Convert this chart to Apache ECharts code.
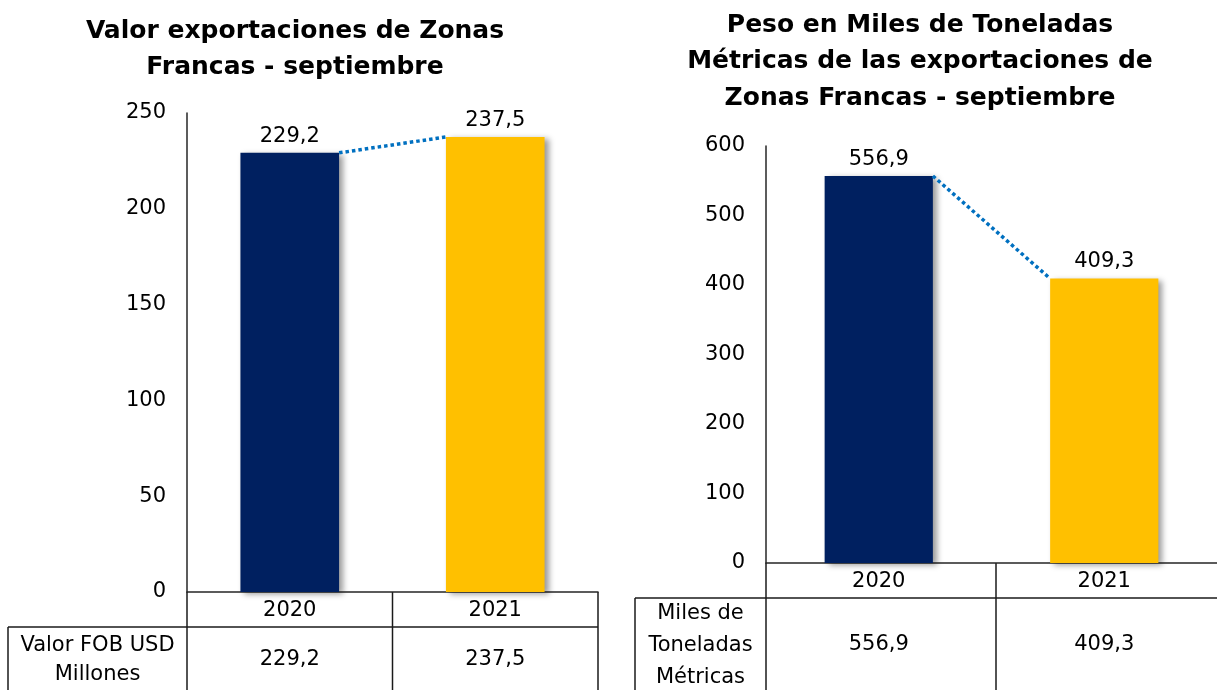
<!DOCTYPE html>
<html>
<head>
<meta charset="utf-8">
<script src="https://cdn.jsdelivr.net/npm/echarts@6/dist/echarts.min.js"></script>
<style>
  html, body { margin: 0; padding: 0; background: #fff; }
  #chart { width: 1217px; height: 690px; }
</style>
</head>
<body>
<div id="chart"></div>
<script>
  // data
  const categories = ['2020', '2021'];
  const valorFob = [229.2, 237.5];
  const pesoMiles = [556.9, 409.3];
  const valorTicks = [0, 50, 100, 150, 200, 250];
  const pesoTicks = [0, 100, 200, 300, 400, 500, 600];
  const barColors = ['#002060', '#FFC000'];

  const FONT = 'DejaVu Sans';
  const fmt = v => v.toFixed(1).replace('.', ',');

  // grid layout (px)
  const g1 = { left: 187, top: 113, width: 411, height: 479 };
  const g2 = { left: 766, top: 146, width: 460, height: 417 };

  const chart = echarts.init(document.getElementById('chart'));

  function yAxisFor(ticks, gi) {
    return {
      type: 'value', gridIndex: gi,
      min: ticks[0], max: ticks[ticks.length - 1], interval: ticks[1] - ticks[0],
      axisLine: { show: true, lineStyle: { color: '#262626', width: 1.5 } },
      axisTick: { show: false },
      splitLine: { show: false },
      axisLabel: { color: '#000', fontSize: 21, fontFamily: FONT, margin: 21 }
    };
  }

  function xAxisFor(gi) {
    return {
      type: 'category', gridIndex: gi, data: categories,
      axisLine: { show: true, lineStyle: { color: '#262626', width: 1.5 } },
      axisTick: { show: false },
      axisLabel: { color: '#000', fontSize: 21, fontFamily: FONT, margin: 8 }
    };
  }

  function barSeries(values, gi) {
    return {
      type: 'bar', xAxisIndex: gi, yAxisIndex: gi, barWidth: '48%',
      data: values.map((v, i) => ({
        value: v,
        itemStyle: {
          color: barColors[i],
          shadowColor: 'rgba(0,0,0,0.4)', shadowBlur: 6, shadowOffsetX: 4, shadowOffsetY: 2
        }
      })),
      label: {
        show: true, position: 'top', distance: 6, color: '#000',
        fontSize: 21, fontFamily: FONT, formatter: p => fmt(p.value)
      },
      z: 3
    };
  }

  // dotted line from top-right of first bar to top-left of second
  function linkSeries(values, gi) {
    return {
      type: 'custom', xAxisIndex: gi, yAxisIndex: gi, z: 4, silent: true,
      data: [[0, values[0], 1, values[1]]],
      renderItem: function (params, api) {
        const a = api.coord([api.value(0), api.value(1)]);
        const b = api.coord([api.value(2), api.value(3)]);
        const half = api.size([1, 0])[0] * 0.48 / 2;
        return {
          type: 'line',
          shape: { x1: a[0] + half, y1: a[1], x2: b[0] - half, y2: b[1] },
          style: { stroke: '#0070C0', lineWidth: 3.5, lineDash: [3.5, 3] }
        };
      }
    };
  }

  chart.setOption({
    animation: false,
    title: [
      {
        text: 'Valor exportaciones de Zonas\nFrancas - septiembre',
        left: 290, top: 8, textAlign: 'center',
        textStyle: { fontSize: 25, fontWeight: 'bold', fontFamily: FONT, color: '#000', lineHeight: 36 }
      },
      {
        text: 'Peso en Miles de Toneladas\nMétricas de las exportaciones de\nZonas Francas - septiembre',
        left: 915, top: 2, textAlign: 'center',
        textStyle: { fontSize: 25, fontWeight: 'bold', fontFamily: FONT, color: '#000', lineHeight: 36.5 }
      }
    ],
    grid: [g1, g2],
    xAxis: [xAxisFor(0), xAxisFor(1)],
    yAxis: [yAxisFor(valorTicks, 0), yAxisFor(pesoTicks, 1)],
    series: [
      barSeries(valorFob, 0), linkSeries(valorFob, 0),
      barSeries(pesoMiles, 1), linkSeries(pesoMiles, 1)
    ]
  });

  // data table under each chart
  function tableGraphics(g, gi, values, rowLabel, labelLeft, rowTop, lh) {
    const bottom = g.top + g.height;
    const right = g.left + g.width;
    const mid = g.left + g.width / 2;
    const line = (x1, y1, x2, y2) => ({
      type: 'line', silent: true,
      shape: { x1, y1, x2, y2 },
      style: { stroke: '#1a1a1a', lineWidth: 1.5 }
    });
    const text = (t, x, y) => ({
      type: 'text', silent: true,
      style: {
        text: t, x, y, align: 'center', verticalAlign: 'middle',
        fontSize: 21, fontFamily: FONT, fill: '#000', lineHeight: lh
      }
    });
    const els = [
      line(labelLeft, rowTop, right, rowTop),
      line(labelLeft, rowTop, labelLeft, 700),
      line(g.left, bottom, g.left, 700),
      line(mid, bottom, mid, 700),
      line(right, bottom, right, 700),
      text(rowLabel, (labelLeft + g.left) / 2, (rowTop + 690) / 2 + 2)
    ];
    values.forEach((v, i) => {
      const x = chart.convertToPixel({ xAxisIndex: gi }, categories[i]);
      els.push(text(fmt(v), x, (rowTop + 690) / 2 + 1));
    });
    return els;
  }

  chart.setOption({
    graphic: [].concat(
      tableGraphics(g1, 0, valorFob, 'Valor FOB USD\nMillones', 8, 627, 29),
      tableGraphics(g2, 1, pesoMiles, 'Miles de\nToneladas\nMétricas', 635, 598, 32)
    )
  });
</script>
</body>
</html>
